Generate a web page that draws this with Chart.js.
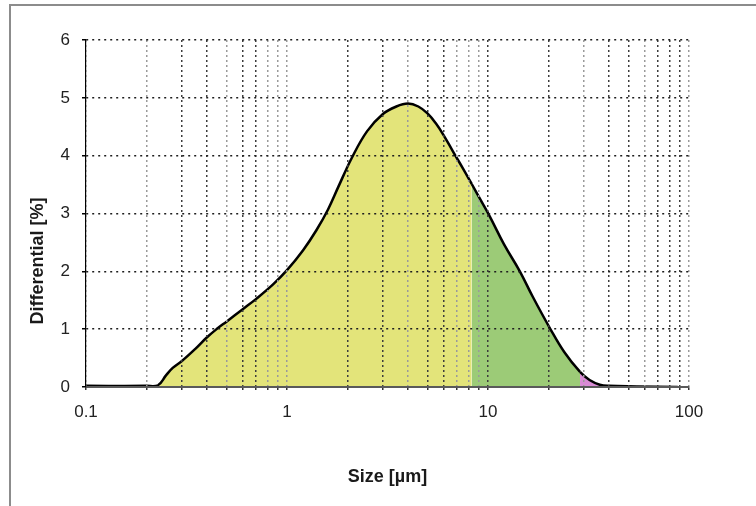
<!DOCTYPE html>
<html>
<head>
<meta charset="utf-8">
<script src="https://cdn.jsdelivr.net/npm/chart.js@4/dist/chart.umd.min.js"></script>
<style>
  html, body { margin: 0; padding: 0; background: #fff; }
  #wrap { position: relative; width: 756px; height: 506px; overflow: hidden; }
  #frame { position: absolute; left: 9px; top: 4px; width: 900px; height: 700px; border: 2px solid #8c8c8c; box-sizing: border-box; }
  canvas { position: absolute; left: 0; top: 0; }
</style>
</head>
<body>
<div id="wrap">
  <div id="frame"></div>
  <canvas id="c" width="756" height="506"></canvas>
</div>
<script>
// Particle size (µm) and differential (%)
const sizes  = [0.1, 0.2, 0.228, 0.25, 0.27, 0.3, 0.35, 0.4, 0.45, 0.5, 0.6, 0.7, 0.85, 1.0, 1.2, 1.4, 1.6, 1.8, 2.1, 2.5, 3.0, 3.5, 4.0, 4.5, 5.0, 5.5, 6.0, 6.7, 7.5, 8.3, 9.2, 10.2, 12.0, 14.4, 16.7, 20.3, 24, 28.7, 32, 36, 40, 55, 88];
const values = [0.02, 0.02, 0.03, 0.2, 0.33, 0.45, 0.66, 0.86, 1.01, 1.13, 1.34, 1.52, 1.77, 2.02, 2.36, 2.71, 3.07, 3.46, 3.96, 4.42, 4.72, 4.85, 4.9, 4.85, 4.73, 4.56, 4.36, 4.07, 3.78, 3.51, 3.23, 2.95, 2.47, 2.0, 1.56, 1.02, 0.6, 0.26, 0.12, 0.04, 0.02, 0.01, 0.0];

// Size classes shaded under the curve (lower bound of each class)
const classStarts = [0.1, 8.3, 28.7];
const classColors = ['#e3e47a', '#9ccb77', '#d98bd5'];

// Axis ticks
const yTicks = [0, 1, 2, 3, 4, 5, 6];
const xGridTicks = [0.1,0.2,0.3,0.4,0.5,0.6,0.7,0.8,0.9, 1,2,3,4,5,6,7,8,9, 10,20,30,40,50,60,70,80,90, 100];
const xLabelTicks = [0.1, 1, 10, 100];
const xDarkGrid = [0.3,0.4,0.6,0.7, 2,3,5,6, 10,20,40,50,70,80,90];

const points = sizes.map((s, i) => ({x: s, y: values[i]}));

function classColor(x) {
  let c = classColors[0];
  for (let i = 0; i < classStarts.length; i++) if (x >= classStarts[i] - 1e-9) c = classColors[i];
  return c;
}

const FONT = '"Liberation Sans", Arial, sans-serif';

const yTitlePlugin = {
  id: 'yTitle',
  afterDraw(chart) {
    const ctx = chart.ctx;
    ctx.save();
    ctx.translate(38, 261);
    ctx.rotate(-Math.PI / 2);
    ctx.font = 'bold 18px ' + FONT;
    ctx.fillStyle = '#1a1a1a';
    ctx.textAlign = 'center';
    ctx.textBaseline = 'middle';
    ctx.fillText('Differential [%]', 0, 0);
    ctx.restore();
  }
};

new Chart(document.getElementById('c'), {
  type: 'line',
  data: {
    datasets: [{
      data: points,
      borderColor: '#000',
      borderWidth: 2.5,
      pointRadius: 0,
      tension: 0.4,
      fill: 'origin',
      backgroundColor: classColors[0],
      segment: {
        backgroundColor: ctx => classColor(ctx.p0.parsed.x)
      }
    }]
  },
  options: {
    responsive: false,
    animation: false,
    layout: { padding: { top: 40, right: 67, left: 0, bottom: 0 } },
    plugins: { legend: { display: false }, tooltip: { enabled: false } },
    scales: {
      x: {
        type: 'logarithmic',
        min: 0.1, max: 100,
        afterBuildTicks: s => { s.ticks = xGridTicks.map(v => ({value: v})); },
        afterFit: s => { s.height = 119; },
        ticks: {
          autoSkip: false, maxRotation: 0, padding: 11,
          color: '#222',
          font: { family: FONT, size: 17 },
          callback: v => xLabelTicks.some(t => Math.abs(t - v) < 1e-9) ? String(v) : ''
        },
        grid: {
          z: 1,
          color: ctx => (ctx.tick && xDarkGrid.some(t => Math.abs(t - ctx.tick.value) < 1e-9)) ? '#3c3c3c' : '#9a9a9a',
          lineWidth: 1.5,
          tickLength: 4,
          tickColor: '#333',
          tickBorderDash: [2, 3]
        },
        border: {
          display: true, color: '#5a5a5a', width: 2, z: 2,
          dash: ctx => ctx.tick ? [2, 3] : []
        },
        title: {
          display: true, text: 'Size [µm]', color: '#1a1a1a',
          font: { family: FONT, size: 18, weight: 'bold' },
          padding: { top: 0, bottom: 18 }
        }
      },
      y: {
        min: 0, max: 6,
        afterBuildTicks: s => { s.ticks = yTicks.map(v => ({value: v})); },
        afterFit: s => { s.width = 86; },
        ticks: {
          padding: 12, color: '#222',
          font: { family: FONT, size: 17 }
        },
        grid: {
          z: 1,
          color: '#1e1e1e',
          lineWidth: 1.5,
          tickLength: 4,
          tickColor: '#000',
          tickBorderDash: []
        },
        border: {
          display: true, color: '#000', width: 1.2, z: 2,
          dash: ctx => ctx.tick ? [2, 4] : []
        }
      }
    }
  },
  plugins: [yTitlePlugin]
});
</script>
</body>
</html>
